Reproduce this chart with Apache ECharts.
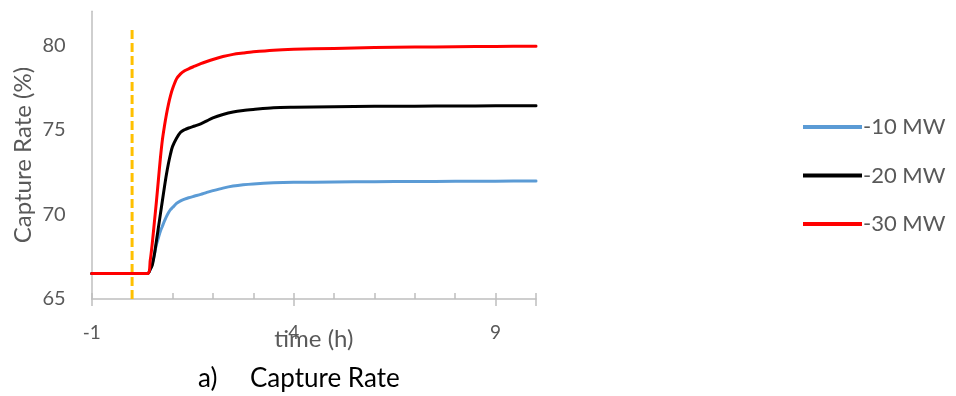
<!DOCTYPE html>
<html>
<head>
<meta charset="utf-8">
<script src="https://cdn.jsdelivr.net/npm/echarts@6/dist/echarts.min.js"></script>
<style>
  html, body { margin: 0; padding: 0; background: #fff; }
  #chart { width: 956px; height: 396px; }
</style>
</head>
<body>
<div id="chart"></div>
<script>
// Time after the load step (h)
const timeH = [-1, 0.38, 0.45, 0.5, 0.55, 0.6, 0.65, 0.7, 0.75, 0.8, 0.85, 0.9, 0.95, 1.0, 1.1, 1.2, 1.3, 1.4, 1.55, 1.7, 1.85, 2.0, 2.25, 2.5, 2.75, 3.0, 3.5, 4, 5, 6, 7, 8, 9, 10];

// Capture rate (%) for each load reduction
const rate10MW = [66.5, 66.5, 66.75, 67.1, 67.6, 68.2, 68.6, 69.0, 69.3, 69.6, 69.87, 70.1, 70.28, 70.4, 70.65, 70.8, 70.9, 70.98, 71.08, 71.18, 71.3, 71.4, 71.55, 71.67, 71.75, 71.8, 71.86, 71.89, 71.91, 71.93, 71.94, 71.95, 71.96, 71.97];
const rate20MW = [66.5, 66.5, 66.75, 67.0, 67.6, 68.4, 69.2, 70.0, 70.8, 71.6, 72.35, 73.0, 73.55, 74.0, 74.5, 74.85, 75.0, 75.1, 75.22, 75.35, 75.52, 75.7, 75.9, 76.05, 76.14, 76.2, 76.3, 76.33, 76.36, 76.38, 76.39, 76.4, 76.41, 76.42];
const rate30MW = [66.5, 66.5, 67.3, 68.3, 69.5, 70.7, 72.0, 73.3, 74.4, 75.2, 75.9, 76.5, 77.0, 77.4, 78.0, 78.3, 78.48, 78.6, 78.75, 78.9, 79.03, 79.15, 79.32, 79.45, 79.53, 79.6, 79.7, 79.75, 79.8, 79.85, 79.88, 79.9, 79.92, 79.93];

const seriesNames = ['-10 MW', '-20 MW', '-30 MW'];
const seriesColors = ['#5B9BD5', '#000000', '#FF0000'];

// Vertical marker at the moment of the step change
const stepMarkerTime = [0, 0];
const stepMarkerRate = [65, 81];

const xTickLabels = [-1, 4, 9];
const yTickLabels = [65, 70, 75, 80];

const pair = (xs, ys) => xs.map((x, i) => [x, ys[i]]);

const FONT = 'Lato, "Open Sans", sans-serif';
const GREY = '#595959';
const AXIS = '#BFBFBF';

const chart = echarts.init(document.getElementById('chart'), null, { renderer: 'canvas' });

const lineSeries = [rate10MW, rate20MW, rate30MW].map((vals, i) => ({
  name: seriesNames[i],
  type: 'line',
  data: pair(timeH, vals),
  showSymbol: false,
  smooth: 0.3,
  lineStyle: { color: seriesColors[i], width: 3, cap: 'round', join: 'round' },
  itemStyle: { color: seriesColors[i] },
  z: 3 + i
}));

chart.setOption({
  animation: false,
  backgroundColor: '#ffffff',
  grid: { left: 91.7, right: 420, top: 11.2, bottom: 97, containLabel: false },
  xAxis: [
    {
      type: 'value', min: -1, max: 10, interval: 1,
      name: 'time (h)', nameLocation: 'middle', nameGap: 28, nameMoveOverlap: false,
      nameTextStyle: { color: GREY, fontSize: 24, fontFamily: FONT },
      axisLine: { onZero: false, lineStyle: { color: AXIS, width: 1.5 } },
      axisTick: { show: true, inside: true, length: 6, lineStyle: { color: AXIS, width: 1.5 } },
      axisLabel: {
        color: GREY, fontSize: 19, fontFamily: FONT, margin: 24,
        formatter: v => (xTickLabels.indexOf(Math.round(v)) >= 0 ? String(Math.round(v)) : '')
      },
      splitLine: { show: false }
    },
    {
      // outward half of the major cross ticks
      type: 'value', min: -1, max: 10, interval: 5, position: 'bottom', gridIndex: 0,
      axisLine: { show: false, onZero: false },
      axisTick: { show: true, inside: false, length: 7, lineStyle: { color: AXIS, width: 1.5 } },
      axisLabel: { show: false },
      splitLine: { show: false }
    }
  ],
  yAxis: {
    type: 'value', min: 65, max: 82, interval: 5,
    name: 'Capture Rate (%)', nameLocation: 'middle', nameGap: 56, nameMoveOverlap: false,
    nameTextStyle: { color: GREY, fontSize: 24, fontFamily: FONT },
    axisLine: { show: true, onZero: false, lineStyle: { color: AXIS, width: 1.5 } },
    axisTick: { show: false },
    axisLabel: {
      color: GREY, fontSize: 20, fontFamily: FONT, margin: 26,
      formatter: v => (yTickLabels.indexOf(Math.round(v)) >= 0 ? String(Math.round(v)) : '')
    },
    splitLine: { show: false }
  },
  legend: {
    orient: 'vertical',
    left: 803, top: 115, padding: 0,
    data: seriesNames,
    icon: 'rect',
    itemWidth: 59, itemHeight: 4, itemGap: 24.5,
    textStyle: { color: GREY, fontSize: 22, lineHeight: 24, fontFamily: FONT, padding: [0, 0, 0, -4] }
  },
  graphic: [
    {
      type: 'text', left: 198, top: 366,
      style: { text: 'a)', fill: '#000000', font: '26px ' + FONT }
    },
    {
      type: 'text', left: 250, top: 366,
      style: { text: 'Capture Rate', fill: '#000000', font: '26px ' + FONT }
    }
  ],
  series: [
    ...lineSeries,
    {
      name: 'step',
      type: 'line',
      data: pair(stepMarkerTime, stepMarkerRate),
      showSymbol: false,
      lineStyle: { color: '#FFC000', width: 3, type: [9, 4] },
      z: 2
    }
  ]
});
</script>
</body>
</html>
